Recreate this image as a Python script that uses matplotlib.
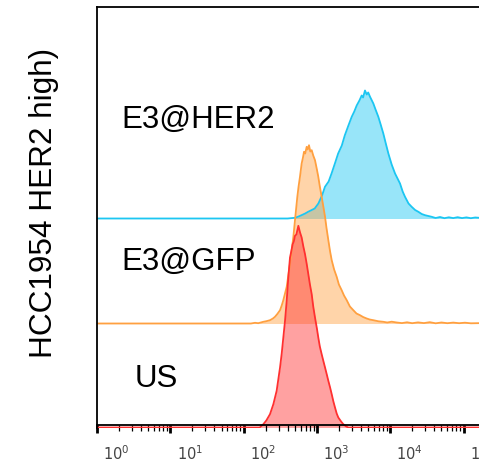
import numpy as np
import matplotlib
matplotlib.use("Agg")
import matplotlib.pyplot as plt
from matplotlib.transforms import ScaledTranslation
from matplotlib.ticker import LogLocator, NullFormatter

# Fluorescence histograms (log10 intensity, event count) for each sample
us_log = [0.0, 2.22, 2.269, 2.31, 2.36, 2.406, 2.451, 2.497, 2.52, 2.542, 2.565, 2.588,
          2.61, 2.633, 2.65, 2.669, 2.685, 2.701, 2.72, 2.747, 2.77, 2.792, 2.815, 2.838,
          2.86, 2.883, 2.905, 2.929, 2.95, 2.974, 3.0, 3.019, 3.04, 3.065, 3.09, 3.111,
          3.135, 3.156, 3.18, 3.202, 3.225, 3.247, 3.27, 3.292, 3.33, 3.36, 3.40, 3.43, 5.25]
us_cnt = [0, 0, 3.3, 7, 13.3, 23.3, 36.7, 60, 74, 90, 106.7, 126.7,
          150, 170, 176, 183.3, 186, 191.7, 193, 201.7, 195, 190, 181, 173.3,
          164, 153.3, 143, 133.3, 121, 110, 99, 90, 81, 73.3, 66, 60,
          53, 46.7, 40, 33.3, 26, 20, 14, 10, 6, 3.3, 1, 0, 0]

gfp_log = [0.0, 2.10, 2.156, 2.20, 2.269, 2.31, 2.36, 2.40, 2.428, 2.46, 2.497, 2.52,
           2.542, 2.565, 2.588, 2.61, 2.633, 2.656, 2.679, 2.701, 2.733, 2.75, 2.769, 2.792,
           2.81, 2.824, 2.84, 2.861, 2.875, 2.892, 2.91, 2.929, 2.95, 2.974, 3.0, 3.019,
           3.04, 3.065, 3.09, 3.111, 3.13, 3.156, 3.18, 3.202, 3.235, 3.27, 3.30, 3.338,
           3.37, 3.407, 3.45, 3.497, 3.54, 3.588, 3.63, 3.679, 3.72, 3.77, 3.84, 3.906,
           3.96, 4.02, 4.089, 4.16, 4.23, 4.30, 4.38, 4.46, 4.54, 4.62, 4.70, 4.78,
           4.86, 4.94, 5.02, 5.10, 5.25]
gfp_cnt = [0, 0, 0.7, 0.3, 1.7, 2.3, 3.3, 5, 6.7, 9.5, 13.3, 18,
           23.3, 30, 36.7, 48, 60, 73, 86.7, 103.3, 126.7, 137, 146.7, 160,
           166, 171.7, 170, 176.7, 174, 178.3, 172, 173.3, 168, 163.3, 154, 146.7,
           137, 126.7, 116, 106.7, 96, 83.3, 72, 63.3, 54, 46.7, 39, 33.3,
           28, 23.3, 17, 13.3, 10, 8.3, 6.5, 5, 4, 3.3, 2.2, 1.7,
           1.0, 1.8, 1.0, 0.4, 1.2, 0.3, 1.1, 0.4, 1.3, 0.2, 1.0, 0.3,
           0.9, 0.3, 0.8, 0.2, 0.4]

her2_log = [0.0, 2.60, 2.70, 2.75, 2.79, 2.84, 2.88, 2.93, 2.97, 3.02, 3.07, 3.11,
            3.16, 3.20, 3.25, 3.29, 3.34, 3.38, 3.43, 3.475, 3.51, 3.543, 3.58, 3.611,
            3.63, 3.656, 3.68, 3.70, 3.725, 3.77, 3.80, 3.838, 3.87, 3.906, 3.94, 3.975,
            4.02, 4.066, 4.10, 4.134, 4.17, 4.202, 4.25, 4.293, 4.34, 4.384, 4.43, 4.475,
            4.52, 4.566, 4.62, 4.68, 4.74, 4.80, 4.86, 4.92, 4.98, 5.04, 5.10, 5.16, 5.25]
her2_cnt = [0, 0, 0.7, 2, 3.3, 5, 6.7, 8.5, 10, 15, 23, 31.7,
            37, 45, 56, 65, 73, 83, 93, 101.7, 107, 113, 118, 123,
            121, 128, 124, 126, 121.7, 115, 109, 101.7, 94, 85, 75, 65,
            54, 45, 40, 35, 27, 21.7, 15, 11.7, 8.5, 6.7, 4.5, 3.3,
            2.5, 1.7, 0.5, 1.5, 0.3, 1.2, 0.4, 1.3, 0.4, 1.1, 0.3, 1.0, 0.5]

samples = ["US", "E3@GFP", "E3@HER2"]
tick_exponents = [0, 1, 2, 3, 4, 5]

series = [
    (us_log, us_cnt, 0, "#ff3030"),
    (gfp_log, gfp_cnt, 104, "#ffa040"),
    (her2_log, her2_cnt, 209, "#1cc6f2"),
]

fig = plt.figure(figsize=(4.79, 4.62), dpi=100)
W, H = 479, 462
ax = fig.add_axes([97 / W, (H - 427.5) / H, (W - 97) / W, 420.5 / H])

# Stacked offset histograms: top sample drawn first, each fill semi-transparent
for xs, cs, off, col in reversed(series):
    x = 10 ** np.asarray(xs)
    y = off + np.asarray(cs)
    ax.fill_between(x, off, y, color=col, alpha=0.45, linewidth=0)
    ax.plot(x, y, color=col, linewidth=1.3, solid_joinstyle="round")

ax.set_xscale("log")
ax.set_xlim(1, 10 ** ((W - 97) / 73.3))
ax.set_ylim(0, 420.5)

for s in ["left", "top", "bottom"]:
    ax.spines[s].set_linewidth(1.3)
    ax.spines[s].set_color("black")
ax.spines["right"].set_visible(False)
ax.spines["bottom"].set_position(("outward", -1.8))

ax.set_yticks([])
ax.set_xticks([10.0 ** k for k in tick_exponents])
ax.set_xticklabels([r"$10^{%d}$" % k for k in tick_exponents])
ax.xaxis.set_minor_locator(LogLocator(base=10, subs=np.arange(2, 10), numticks=20))
ax.xaxis.set_minor_formatter(NullFormatter())
ax.tick_params(axis="x", which="major", direction="out", length=6, width=2.0,
               pad=8, labelsize=10.5, labelcolor="#444444", color="black")
ax.tick_params(axis="x", which="minor", direction="out", length=4, width=0.9,
               color="black")

shift = ScaledTranslation(19.5 / 100, 0, fig.dpi_scale_trans)
for lab in ax.xaxis.get_majorticklabels():
    lab.set_transform(lab.get_transform() + shift)

font = "Liberation Sans"
label_pos = {"E3@HER2": (121, 128), "E3@GFP": (121, 270), "US": (135, 387)}
for name in samples:
    px, py = label_pos[name]
    fig.text(px / W, 1 - py / H, name, fontsize=22.5, family=font,
             ha="left", va="baseline")

fig.text(52 / W, 1 - 203 / H, "HCC1954 HER2 high)", fontsize=22.7, family=font,
         rotation=90, rotation_mode="anchor", ha="center", va="baseline")

fig.savefig("out.png", dpi=100)
